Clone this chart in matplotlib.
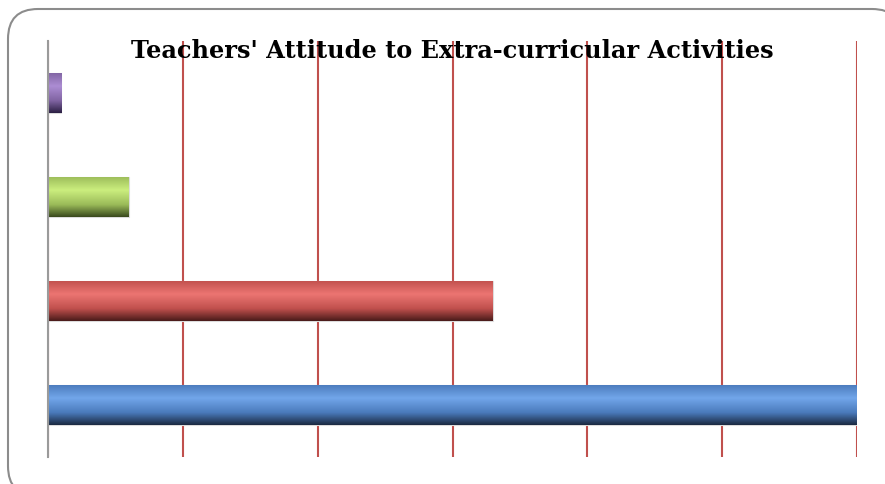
import numpy as np
import matplotlib
matplotlib.use('Agg')
import matplotlib.pyplot as plt
from matplotlib.colors import LinearSegmentedColormap
from matplotlib.patches import FancyBboxPatch

# Données (de bas en haut)
categories = ['Cat 1', 'Cat 2', 'Cat 3', 'Cat 4']
values = [60, 33, 6, 1]
x_ticks = [0, 10, 20, 30, 40, 50, 60]

# dégradés : haut, reflet, bas
gradients = [
    ('#4a7abb', '#72a6ea', '#1b2a42'),
    ('#c0504d', '#ec7572', '#4a1b1a'),
    ('#9bbb59', '#cbee7e', '#3a4a1e'),
    ('#8064a2', '#ac8dd3', '#2c2044'),
]

fig = plt.figure(figsize=(8.85, 4.85), dpi=100)

# cadre arrondi (en pouces)
frame = FancyBboxPatch((0.08, -0.12), 8.94, 4.87,
                       boxstyle='round,pad=0,rounding_size=0.3',
                       transform=fig.dpi_scale_trans, facecolor='white',
                       edgecolor='#8c8c8c', linewidth=1.5, zorder=-5)
fig.patches.append(frame)

ax = fig.add_axes([48 / 885, 27 / 485, 809 / 885, 416 / 485])
ax.set_facecolor('none')
ax.set_zorder(2)

bars = ax.barh(range(len(values)), values, height=0.39, color='none',
               edgecolor='none', zorder=3)

for bar, (top, mid, bot) in zip(bars, gradients):
    cmap = LinearSegmentedColormap.from_list(
        'g', [(0, bot), (0.3, top), (0.66, mid), (1, top)])
    grad = np.linspace(0, 1, 100).reshape(-1, 1)
    x0, y0 = bar.get_x(), bar.get_y()
    w, h = bar.get_width(), bar.get_height()
    im = ax.imshow(grad, cmap=cmap, origin='lower', aspect='auto',
                   extent=(x0, x0 + w, y0, y0 + h), zorder=3)
    im.set_clip_path(bar)
    bar.set_edgecolor('#dcdcdc')
    bar.set_linewidth(0.8)

ax.set_xlim(0, 60)
ax.set_ylim(-0.5, 3.5)
ax.set_xticks(x_ticks)
ax.set_yticks([])
ax.tick_params(axis='x', length=0, labelbottom=False)
ax.grid(True, axis='x', color='#c0504d', linewidth=1.5, zorder=1)
ax.set_axisbelow(True)
for s in ['top', 'right', 'bottom']:
    ax.spines[s].set_visible(False)
ax.spines['left'].set_color('#9a9a9a')
ax.spines['left'].set_linewidth(1.5)
ax.spines['left'].set_zorder(4)

ax.set_title("Teachers' Attitude to Extra-curricular Activities",
             fontsize=17.3, fontweight='bold', family='DejaVu Serif',
             y=0.962, pad=0)

fig.savefig('out.png', dpi=100)
